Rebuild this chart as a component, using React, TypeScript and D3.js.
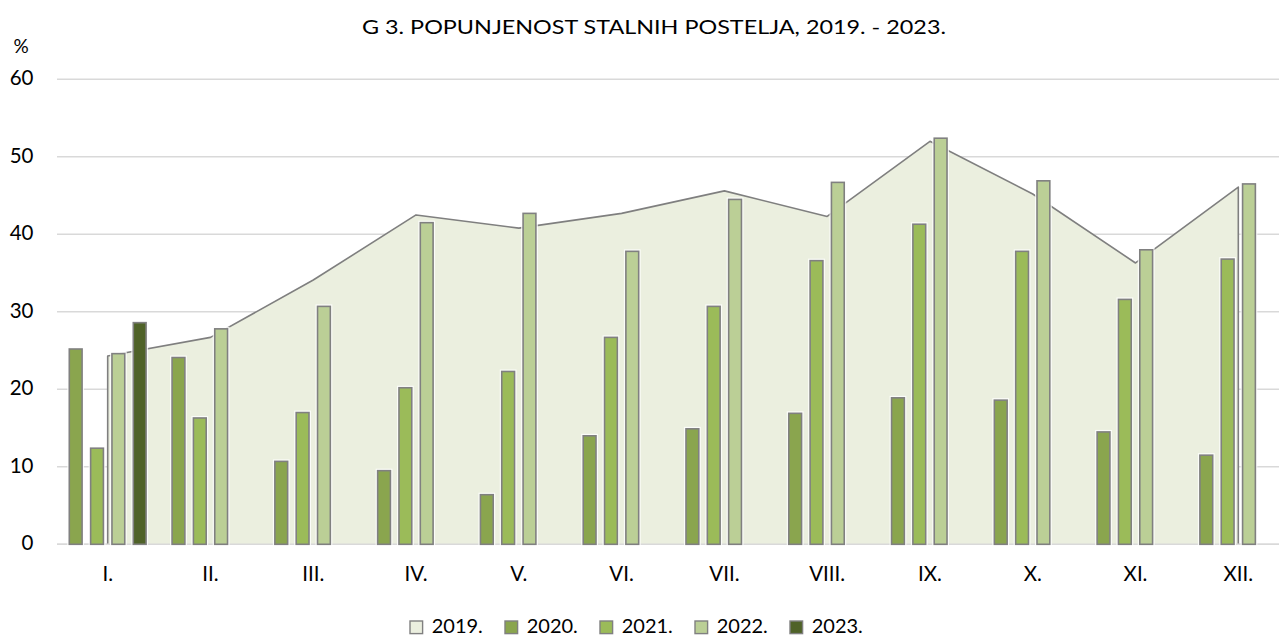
import React from "react";
import * as d3 from "d3";

const categories = ["I.", "II.", "III.", "IV.", "V.", "VI.", "VII.", "VIII.", "IX.", "X.", "XI.", "XII."];
const values2019 = [24.3, 26.7, 34.1, 42.5, 40.8, 42.7, 45.6, 42.3, 52.0, 45.2, 36.3, 46.1];
const values2020 = [25.2, 24.1, 10.7, 9.5, 6.4, 14.0, 14.9, 16.9, 18.9, 18.6, 14.5, 11.5];
const values2021 = [12.4, 16.3, 17.0, 20.2, 22.3, 26.7, 30.7, 36.6, 41.3, 37.8, 31.6, 36.8];
const values2022 = [24.6, 27.8, 30.7, 41.5, 42.7, 37.8, 44.5, 46.7, 52.4, 46.9, 38.0, 46.5];
const values2023: (number | null)[] = [28.6, null, null, null, null, null, null, null, null, null, null, null];
const yTicks = [0, 10, 20, 30, 40, 50, 60];
const legendLabels = ["2019.", "2020.", "2021.", "2022.", "2023."];
const title = "G 3. POPUNJENOST STALNIH POSTELJA, 2019. - 2023.";

const barSeries = [
  { name: "2020.", values: values2020 as (number | null)[], color: "#8aa54e" },
  { name: "2021.", values: values2021 as (number | null)[], color: "#9bbb59" },
  { name: "2022.", values: values2022 as (number | null)[], color: "#bbcf96" },
  { name: "2023.", values: values2023, color: "#4f6228" },
];
const areaColor = "#ebefdf";
const legendColors = [areaColor, "#8aa54e", "#9bbb59", "#bbcf96", "#4f6228"];

const W = 1279;
const H = 637;
const FONT = "Lato, 'Open Sans', sans-serif";

export default function App() {
  const x = d3.scaleBand<string>().domain(categories).range([56.3, 1289.7]).paddingInner(0).paddingOuter(0);
  const half = 42.67;
  const xi = d3
    .scaleBand<string>()
    .domain(barSeries.map((s) => s.name))
    .range([-half, half])
    .paddingInner(0.4)
    .paddingOuter(0.2);
  const y = d3.scaleLinear().domain([0, 60]).range([544.3, 79.3]);
  const cx = (c: string) => (x(c) as number) + x.bandwidth() / 2;

  const areaPts: [number, number][] = values2019.map((v, i) => [cx(categories[i]), v]);
  const areaGen = d3
    .area<[number, number]>()
    .x((d) => d[0])
    .y0(y(0))
    .y1((d) => y(d[1]));
  const lineGen = d3
    .line<[number, number]>()
    .x((d) => d[0])
    .y((d) => y(d[1]));
  const outlinePts: [number, number][] = [
    [areaPts[0][0], 0],
    ...areaPts,
    [areaPts[areaPts.length - 1][0], 0],
  ];

  const legendX0 = 409.3;
  const legendStep = 95;

  return (
    <svg width={W} height={H} style={{ position: "absolute", left: 0, top: 0, background: "#fff" }} fontFamily={FONT}>
      <rect x={0} y={0} width={W} height={H} fill="#fff" />
      <text x={654} y={29} textAnchor="middle" dominantBaseline="middle" fontSize={19} fill="#000" textLength={584} lengthAdjust="spacingAndGlyphs">
        {title}
      </text>
      <text x={21} y={48} textAnchor="middle" dominantBaseline="middle" fontSize={19} fill="#000">%</text>
      {yTicks.map((t) => (
        <g key={t}>
          <line x1={57} x2={W} y1={y(t)} y2={y(t)} stroke="#d9d9d9" strokeWidth={1.5} />
          <text x={33.5} y={y(t) + 1} textAnchor="end" dominantBaseline="middle" fontSize={20.5} fill="#000">
            {t}
          </text>
        </g>
      ))}
      <path d={areaGen(areaPts) || ""} fill={areaColor} />
      <path d={lineGen(outlinePts) || ""} fill="none" stroke="#7f7f7f" strokeWidth={1.6} strokeLinejoin="round" />
      <line x1={57} x2={W} y1={y(0)} y2={y(0)} stroke="#d9d9d9" strokeWidth={1.5} />
      {barSeries.map((s) =>
        s.values.map((v, i) => {
          if (v == null) return null;
          const bx = cx(categories[i]) + (xi(s.name) as number);
          const bw = xi.bandwidth();
          return (
            <g key={s.name + i}>
              <rect x={bx} y={y(v)} width={bw} height={y(0) - y(v)} fill="none" stroke="rgba(255,255,255,0.8)" strokeWidth={4} />
              <rect x={bx} y={y(v)} width={bw} height={y(0) - y(v)} fill={s.color} stroke="#808080" strokeWidth={1.6} />
            </g>
          );
        })
      )}
      {categories.map((c) => (
        <text key={c} x={cx(c)} y={576} textAnchor="middle" dominantBaseline="middle" fontSize={20.5} fill="#000">
          {c}
        </text>
      ))}
      {legendLabels.map((l, i) => (
        <g key={l}>
          <rect x={legendX0 + i * legendStep + 0.7} y={621} width={12.6} height={12.6} fill={legendColors[i]} stroke="#808080" strokeWidth={1.4} />
          <text x={legendX0 + i * legendStep + 22.4} y={628} dominantBaseline="middle" fontSize={20} fill="#000">
            {l}
          </text>
        </g>
      ))}
    </svg>
  );
}
